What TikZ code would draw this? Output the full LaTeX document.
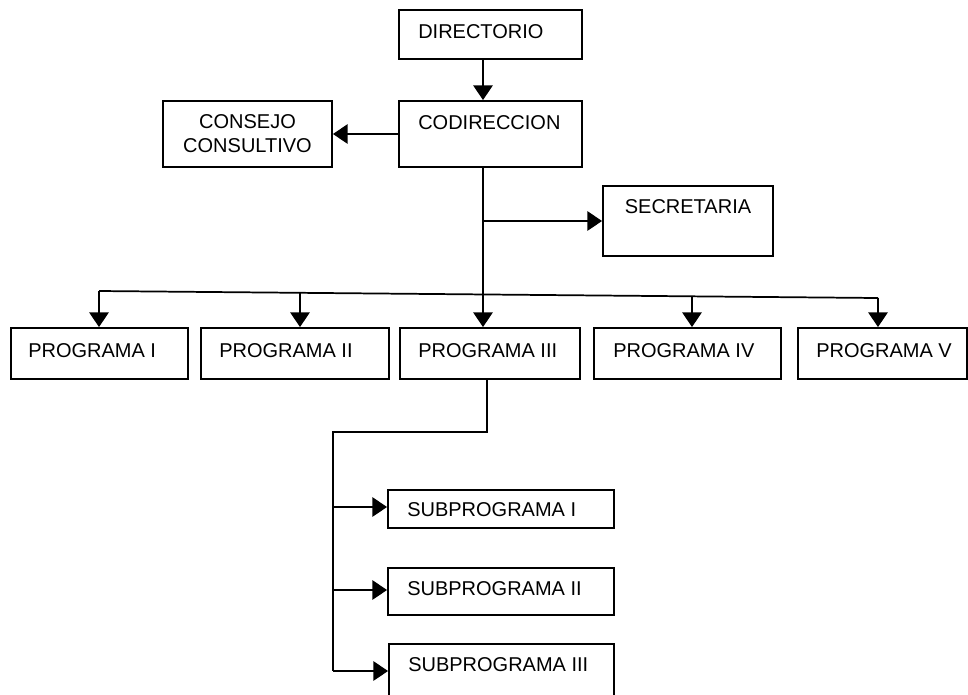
\documentclass[tikz,border=0pt]{standalone}
\usepackage{fontspec}
\setmainfont{Liberation Sans}
\usetikzlibrary{arrows.meta}
\begin{document}
\begin{tikzpicture}[x=0.75pt,y=-0.75pt,
  box/.style={draw,line width=1.4pt,inner sep=0pt,fill=white},
  lbl/.style={inner sep=0pt,font=\fontsize{15}{18}\selectfont},
  conn/.style={line width=1.3pt},
  arr/.style={conn,-{Triangle[length=11pt,width=14.5pt]}}]
\useasboundingbox (0,0) rectangle (968,694);
% boxes
\node[box,minimum width=137.25pt,minimum height=36.75pt] (dir) at (490.5,34.5) {};
\node[box,minimum width=137.25pt,minimum height=49.5pt] (codir) at (490.5,134) {};
\node[box,minimum width=126.75pt,minimum height=49.5pt] (cons) at (247.5,134) {};
\node[box,minimum width=127.5pt,minimum height=52.5pt] (sec) at (688,221) {};
\node[box,minimum width=132.75pt,minimum height=38.25pt] (p1) at (99.5,353.5) {};
\node[box,minimum width=141pt,minimum height=38.25pt] (p2) at (295,353.5) {};
\node[box,minimum width=135pt,minimum height=38.25pt] (p3) at (490,353.5) {};
\node[box,minimum width=140.25pt,minimum height=38.25pt] (p4) at (687.5,353.5) {};
\node[box,minimum width=126.75pt,minimum height=38.25pt] (p5) at (882.5,353.5) {};
\node[box,minimum width=169.5pt,minimum height=28.5pt] (s1) at (501,509) {};
\node[box,minimum width=169.5pt,minimum height=35.25pt] (s2) at (501,591.5) {};
\node[box,minimum width=168.75pt,minimum height=57pt] (s3) at (501.5,682) {};
% texts
\node[lbl,anchor=west] (tdir) at (418,32) {DIRECTORIO};
\node[lbl,anchor=west] (tcodir) at (418,123) {CODIRECCION};
\node[lbl,align=center] (tcons) at (247.5,134) {CONSEJO\\CONSULTIVO};
\node[lbl] (tsec) at (688,207) {SECRETARIA};
\node[lbl,anchor=west] (tp1) at (28,351) {PROGRAMA I};
\node[lbl,anchor=west] (tp2) at (219,351) {PROGRAMA II};
\node[lbl,anchor=west] (tp3) at (418,351) {PROGRAMA III};
\node[lbl,anchor=west] (tp4) at (613,351) {PROGRAMA IV};
\node[lbl,anchor=west] (tp5) at (816,351) {PROGRAMA V};
\node[lbl,anchor=west] (ts1) at (407,510) {SUBPROGRAMA I};
\node[lbl,anchor=west] (ts2) at (407,589) {SUBPROGRAMA II};
\node[lbl,anchor=west] (ts3) at (408,665) {SUBPROGRAMA III};
% coordinates
\coordinate (spine) at (483,0);
\coordinate (busL) at (99,291);
\coordinate (busR) at (878,298);
\coordinate (d2) at (300,292.8);
\coordinate (d4) at (692,296.3);
\coordinate (down) at (487,432);
\coordinate (trunkTop) at (333,432);
\coordinate (t1) at (333,507);
\coordinate (t2) at (333,590);
\coordinate (t3) at (333,671);
% connectors
\draw[arr] (dir.south -| spine) -- (codir.north -| spine);
\draw[arr] (codir.west) -- (cons.east);
\draw[arr] (codir.south -| spine) -- (p3.north -| spine);
\draw[arr] (spine |- sec.west) -- (sec.west);
\draw[conn] (busL) -- (busR);
\draw[arr] (busL) -- (busL |- p1.north);
\draw[arr] (d2) -- (d2 |- p2.north);
\draw[arr] (d4) -- (d4 |- p4.north);
\draw[arr] (busR) -- (busR |- p5.north);
\draw[conn] (p3.south -| down) -- (down) -- (trunkTop) -- (t3);
\draw[arr] (t1) -- (t1 -| s1.west);
\draw[arr] (t2) -- (t2 -| s2.west);
\draw[arr] (t3) -- (t3 -| s3.west);
\end{tikzpicture}
\end{document}
